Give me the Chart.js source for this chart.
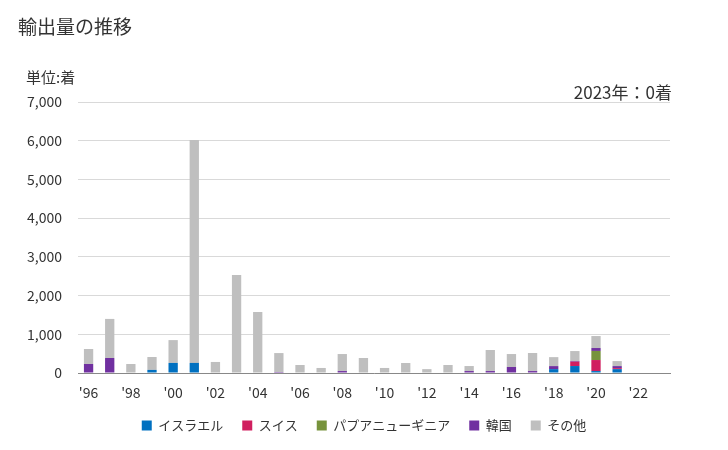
<!DOCTYPE html>
<html>
<head>
<meta charset="utf-8">
<script src="https://cdn.jsdelivr.net/npm/chart.js@4"></script>
<style>
  body { margin: 0; background: #fff; font-family: "Noto Sans CJK JP", sans-serif; }
  #wrap { position: relative; width: 728px; height: 450px; }
  .txt { position: absolute; color: #333; white-space: nowrap; line-height: 1; }
  #title { left: 18px; top: 16px; font-size: 19px; }
  #unit { left: 26px; top: 69px; font-size: 15px; }
  #note { right: 56px; top: 83px; font-size: 17px; }
</style>
</head>
<body>
<div id="wrap">
  <canvas id="chart" width="728" height="450"></canvas>
  <div class="txt" id="title">輸出量の推移</div>
  <div class="txt" id="unit">単位:着</div>
  <div class="txt" id="note">2023年：0着</div>
</div>
<script>
const years = ["'96","'97","'98","'99","'00","'01","'02","'03","'04","'05","'06","'07","'08","'09",
               "'10","'11","'12","'13","'14","'15","'16","'17","'18","'19","'20","'21","'22","'23"];

const israel = [0, 0, 0, 80, 260, 260, 0, 0, 0, 0, 0, 0, 0, 0, 0, 0, 0, 0, 0, 0, 0, 0, 100, 180, 50, 100, 0, 0];
const swiss  = [0, 0, 0, 0, 0, 0, 0, 0, 0, 0, 0, 0, 0, 0, 0, 0, 0, 0, 0, 0, 0, 0, 0, 112, 285, 26, 0, 0];
const png    = [0, 0, 0, 0, 0, 0, 0, 0, 0, 0, 0, 0, 0, 0, 0, 0, 0, 0, 0, 0, 0, 0, 0, 0, 235, 0, 0, 0];
const korea  = [232, 387, 0, 0, 0, 0, 0, 0, 0, 25, 0, 0, 50, 0, 0, 0, 0, 0, 50, 50, 155, 50, 78, 17, 75, 52, 0, 0];
const others = [388, 1010, 232, 333, 590, 5760, 285, 2530, 1575, 490, 207, 130, 440, 387,
                130, 258, 100, 207, 130, 544, 335, 467, 232, 258, 310, 130, 0, 0];

const yTicks = [0, 1000, 2000, 3000, 4000, 5000, 6000, 7000];

const font = "'Noto Sans CJK JP', sans-serif";

// legend is centred on the whole page, not on the plot area
const shiftLegend = {
  id: 'shiftLegend',
  afterLayout(chart) {
    const lg = chart.legend;
    const dx = (chart.width - (lg.left + lg.right)) / 2;
    lg.left += dx;
    lg.right += dx;
  }
};

new Chart(document.getElementById("chart"), {
  type: 'bar',
  data: {
    labels: years,
    datasets: [
      { label: "イスラエル", data: israel, backgroundColor: "#0070c0" },
      { label: "スイス", data: swiss, backgroundColor: "#d01f5f" },
      { label: "パプアニューギニア", data: png, backgroundColor: "#77933c" },
      { label: "韓国", data: korea, backgroundColor: "#7030a0" },
      { label: "その他", data: others, backgroundColor: "#bfbfbf" }
    ]
  },
  plugins: [shiftLegend],
  options: {
    responsive: false,
    animation: false,
    layout: { padding: { top: 102, right: 58, bottom: 8, left: 0 } },
    datasets: { bar: { barPercentage: 0.44, categoryPercentage: 1 } },
    plugins: {
      legend: {
        position: 'bottom',
        labels: {
          boxWidth: 10, boxHeight: 10, padding: 19, color: '#333',
          font: { family: font, size: 13 }
        }
      },
      tooltip: { enabled: false }
    },
    scales: {
      x: {
        stacked: true,
        afterFit: s => { s.height = 27; },
        grid: { display: false },
        border: { color: '#888', width: 1 },
        ticks: {
          autoSkip: false, maxRotation: 0, color: '#333', padding: 3,
          font: { family: font, size: 14 },
          callback: (v, i) => i % 2 === 0 ? years[i] : ''
        }
      },
      y: {
        stacked: true,
        min: 0, max: 7000,
        afterFit: s => { s.width = 78; },
        afterBuildTicks: s => { s.ticks = yTicks.map(v => ({ value: v })); },
        grid: { color: '#d9d9d9', drawTicks: false },
        border: { display: false },
        ticks: {
          padding: 16, color: '#333',
          font: { family: font, size: 14 },
          callback: v => v.toLocaleString('en-US')
        }
      }
    }
  }
});
</script>
</body>
</html>
